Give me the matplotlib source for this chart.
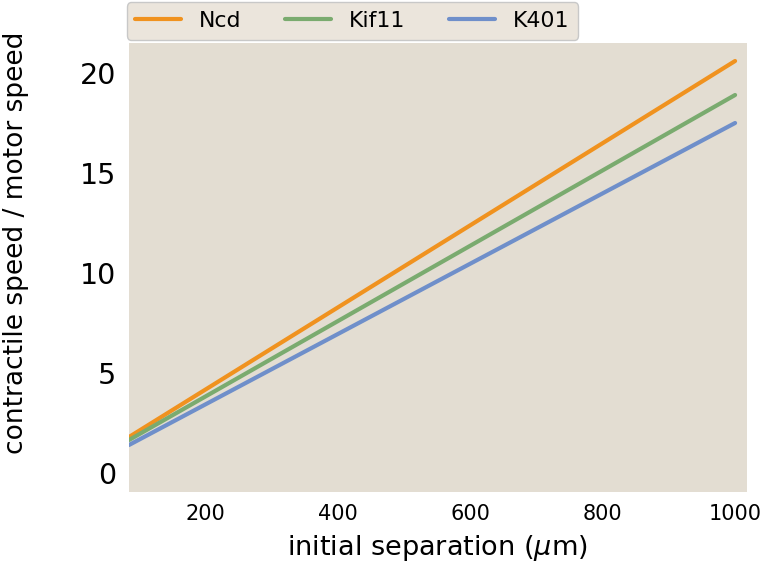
import matplotlib
matplotlib.use("Agg")
import matplotlib.pyplot as plt

separation = [85, 1000]
ncd = [1.8, 20.6]
kif11 = [1.65, 18.9]
k401 = [1.4, 17.5]
labels = ["Ncd", "Kif11", "K401"]
colors = ["#f0921f", "#7aab6f", "#6f8fca"]

fig = plt.figure(figsize=(7.62, 5.64), dpi=100)
ax = fig.add_axes([129/762, 1-492/564, (747-129)/762, (492-43)/564])
ax.set_facecolor("#e3ddd2")
for ys, lab, c in zip([ncd, kif11, k401], labels, colors):
    ax.plot(separation, ys, color=c, lw=3, label=lab, solid_capstyle="round")
ax.set_xlim(85, 1018)
ax.set_ylim(-0.95, 21.5)
ax.set_xticks([200, 400, 600, 800, 1000])
ax.set_yticks([0, 5, 10, 15, 20])
for s in ax.spines.values():
    s.set_visible(False)
ax.tick_params(axis="x", length=0, labelsize=15, pad=9)
ax.tick_params(axis="y", length=0, labelsize=20.5, pad=9)
ax.set_xlabel("initial separation ($\\mu$m)", fontsize=19.5)
ax.set_ylabel("contractile speed / motor speed", fontsize=19)
ax.xaxis.set_label_coords(0.499, -0.091)
ax.yaxis.set_label_coords(-0.162, 0.556)
leg = ax.legend(loc="lower left", bbox_to_anchor=(-0.004, 1.007), ncol=3, fontsize=15.8,
                frameon=True, facecolor="#ebe5dc", edgecolor="#c8c8c8",
                borderaxespad=0, handlelength=2.1)
leg.get_frame().set_alpha(1)
fig.savefig("out.png", dpi=100)
